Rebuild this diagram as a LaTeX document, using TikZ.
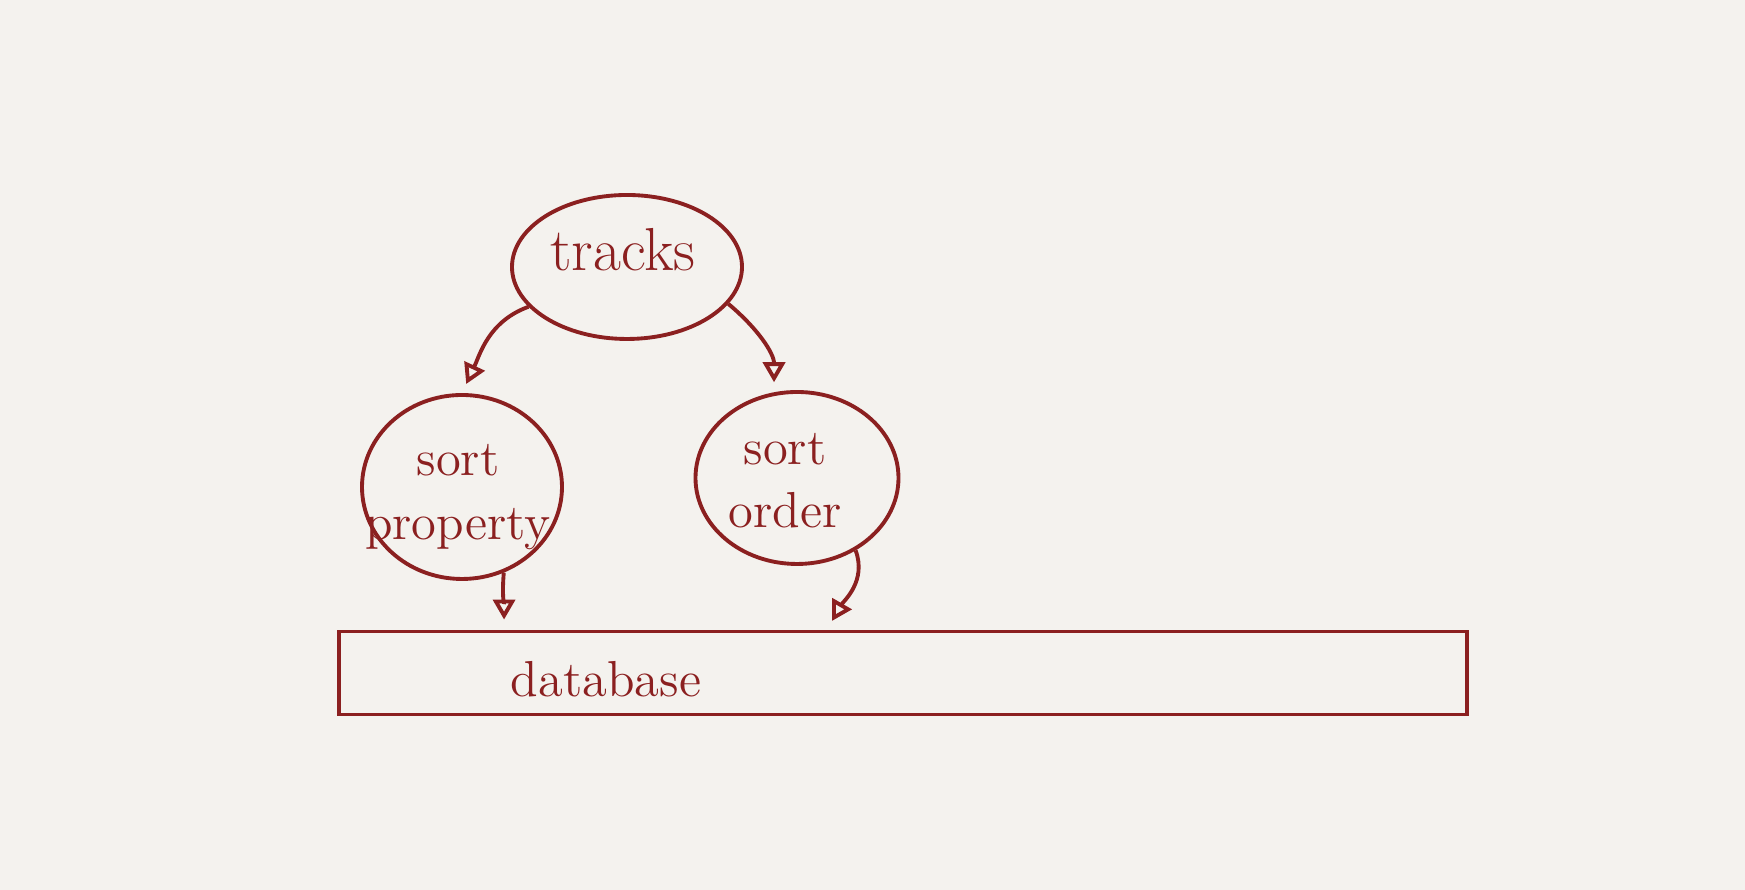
\documentclass[tikz,border=0pt]{standalone}
\usepackage{tikz}
\usetikzlibrary{shapes.geometric,arrows.meta}
\usepackage{xcolor}
\definecolor{ink}{RGB}{139,32,32}
\definecolor{paper}{RGB}{244,242,238}

\begin{document}
\begin{tikzpicture}[
    blob/.style={draw=ink, ellipse, line width=1.1pt, inner sep=0pt},
    word/.style={text=ink, align=center, font=\Large},
    flow/.style={draw=ink, line width=1.1pt, -{Triangle[open, length=2mm, width=2.2mm]}, shorten >=1mm},
]
    % Paper
    \fill[paper] (0, 0) rectangle (17.45, 8.90);
    \useasboundingbox (0, 0) rectangle (17.45, 8.90);

    % Bubbles
    \node[blob, minimum width=2.3cm, minimum height=1.44cm] (tracks) at (6.27, 6.23) {};
    \node[blob, minimum width=2.0cm, minimum height=1.84cm] (prop) at (4.62, 4.03) {};
    \node[blob, minimum width=2.03cm, minimum height=1.72cm] (order) at (7.97, 4.12) {};
    \node[word, font=\LARGE] (trackstext) at (6.23, 6.40) {tracks};
    \node[word] (proptext) at (4.58, 3.93) {sort\\property};
    \node[word] (ordertext) at (7.85, 4.09) {sort\\order};

    % Database
    \node[draw=ink, line width=1.1pt, minimum width=11.28cm, minimum height=0.83cm] (db) at (9.03, 2.17) {};
    \node[word] (dbtext) at (6.06, 2.11) {database};
    \coordinate (dbin1) at ([xshift=1.67cm]db.north west);
    \coordinate (dbin2) at ([xshift=4.90cm]db.north west);

    % Arrows
    \draw[flow] (tracks.202) to[out=200, in=65] (prop.north);
    \draw[flow] (tracks.340) to[out=-40, in=90] (order.105);
    \draw[flow] (prop.-64) to[out=-95, in=90] (dbin1);
    \draw[flow] (order.-51) to[out=-70, in=60] (dbin2);
\end{tikzpicture}
\end{document}
